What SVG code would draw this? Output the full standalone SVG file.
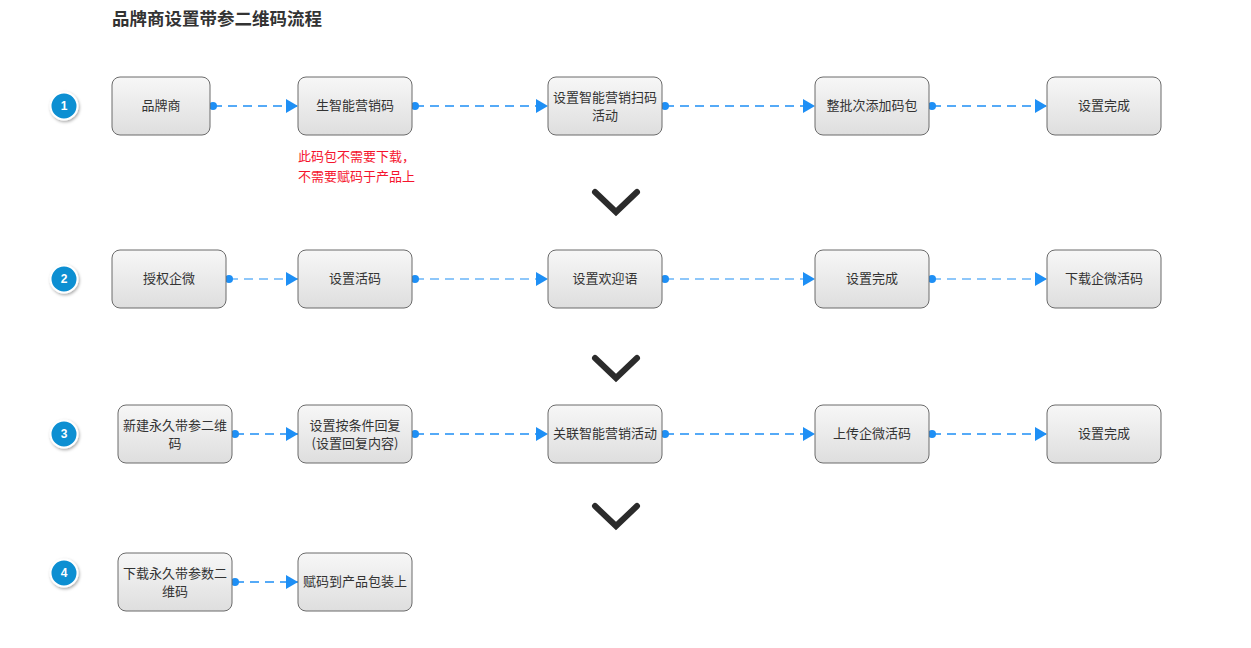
<svg xmlns="http://www.w3.org/2000/svg" width="1251" height="648" viewBox="0 0 1251 648">
<defs>
<linearGradient id="g" x1="0" y1="0" x2="0" y2="1"><stop offset="0" stop-color="#f7f7f7"/><stop offset="1" stop-color="#dedede"/></linearGradient>
<filter id="sh" x="-50%" y="-50%" width="200%" height="200%"><feDropShadow dx="1" dy="1.5" stdDeviation="1.5" flood-color="#000" flood-opacity="0.35"/></filter>
<marker id="ar" viewBox="0 0 12 14" refX="12" refY="7" markerWidth="12" markerHeight="14" markerUnits="userSpaceOnUse" orient="auto"><path d="M0,0 L12,7 L0,14 Z" fill="#1e8ff5"/></marker>
<marker id="dt" viewBox="0 0 8 8" refX="4" refY="4" markerWidth="8" markerHeight="8" markerUnits="userSpaceOnUse"><circle cx="4" cy="4" r="4" fill="#1e8ff5"/></marker>
</defs>
<style>
.n rect{fill:url(#g);stroke:#6b6b6b;stroke-width:1}
.t{font-family:"Noto Sans CJK SC","Liberation Sans",sans-serif;font-size:13px;fill:#333;text-anchor:middle}
.c{stroke:#1e8ff5;stroke-width:1.5;stroke-dasharray:9 6;fill:none;marker-start:url(#dt);marker-end:url(#ar)}
.c2{stroke-width:1.1}
.b circle{fill:#0a8fd2;stroke:#fff;stroke-width:2;filter:url(#sh)}
.b text{font-family:"Liberation Sans",sans-serif;font-size:12px;font-weight:bold;fill:#fff;text-anchor:middle}
.v{fill:none;stroke:#2b2b2b;stroke-width:6;stroke-linecap:round;stroke-linejoin:miter}
.r{font-family:"Noto Sans CJK SC","Liberation Sans",sans-serif;font-size:13px;fill:#f5142d}
</style>
<rect width="1251" height="648" fill="#fff"/>
<text x="112" y="25" style="font-family:'Noto Sans CJK SC','Liberation Sans',sans-serif;font-size:17.5px;font-weight:bold;fill:#333">品牌商设置带参二维码流程</text>

<g id="badges" class="b">
<g id="b1"><circle cx="64" cy="106" r="13.5"/><text x="64" y="110">1</text></g>
<g id="b2"><circle cx="64" cy="279" r="13.5"/><text x="64" y="283">2</text></g>
<g id="b3"><circle cx="64" cy="434" r="13.5"/><text x="64" y="438">3</text></g>
<g id="b4"><circle cx="64" cy="573" r="13.5"/><text x="64" y="577">4</text></g>
</g>

<g id="chevrons">
<path class="v" d="M595,192 L616,212 L637,192"/>
<path class="v" d="M595,358 L616,378 L637,358"/>
<path class="v" d="M595,506 L616,526 L637,506"/>
</g>

<g id="connectors">
<path class="c" d="M213,106 H298"/>
<path class="c" d="M415,106 H548"/>
<path class="c" d="M665,106 H815"/>
<path class="c" d="M932,106 H1047"/>
<path class="c c2" d="M229,279 H298"/>
<path class="c c2" d="M415,279 H548"/>
<path class="c c2" d="M665,279 H815"/>
<path class="c c2" d="M932,279 H1047"/>
<path class="c" d="M235,434 H298"/>
<path class="c" d="M415,434 H548"/>
<path class="c" d="M665,434 H815"/>
<path class="c" d="M932,434 H1047"/>
<path class="c" d="M235,582 H298"/>
</g>

<g id="n1a" class="n"><rect x="112" y="77" width="98" height="58" rx="8"/><text class="t" x="161" y="110">品牌商</text></g>
<g id="n1b" class="n"><rect x="298" y="77" width="114" height="58" rx="8"/><text class="t" x="355" y="110">生智能营销码</text></g>
<g id="n1c" class="n"><rect x="548" y="77" width="114" height="58" rx="8"/><text class="t" x="605" y="102">设置智能营销扫码</text><text class="t" x="605" y="120">活动</text></g>
<g id="n1d" class="n"><rect x="815" y="77" width="114" height="58" rx="8"/><text class="t" x="872" y="110">整批次添加码包</text></g>
<g id="n1e" class="n"><rect x="1047" y="77" width="114" height="58" rx="8"/><text class="t" x="1104" y="110">设置完成</text></g>

<g id="note"><text class="r" x="298" y="161">此码包不需要下载，</text><text class="r" x="298" y="181">不需要赋码于产品上</text></g>

<g id="n2a" class="n"><rect x="112" y="250" width="114" height="58" rx="8"/><text class="t" x="169" y="283">授权企微</text></g>
<g id="n2b" class="n"><rect x="298" y="250" width="114" height="58" rx="8"/><text class="t" x="355" y="283">设置活码</text></g>
<g id="n2c" class="n"><rect x="548" y="250" width="114" height="58" rx="8"/><text class="t" x="605" y="283">设置欢迎语</text></g>
<g id="n2d" class="n"><rect x="815" y="250" width="114" height="58" rx="8"/><text class="t" x="872" y="283">设置完成</text></g>
<g id="n2e" class="n"><rect x="1047" y="250" width="114" height="58" rx="8"/><text class="t" x="1104" y="283">下载企微活码</text></g>

<g id="n3a" class="n"><rect x="118" y="405" width="114" height="58" rx="8"/><text class="t" x="175" y="430">新建永久带参二维</text><text class="t" x="175" y="448">码</text></g>
<g id="n3b" class="n"><rect x="298" y="405" width="114" height="58" rx="8"/><text class="t" x="355" y="430">设置按条件回复</text><text class="t" x="355" y="448">(设置回复内容)</text></g>
<g id="n3c" class="n"><rect x="548" y="405" width="114" height="58" rx="8"/><text class="t" x="605" y="438">关联智能营销活动</text></g>
<g id="n3d" class="n"><rect x="815" y="405" width="114" height="58" rx="8"/><text class="t" x="872" y="438">上传企微活码</text></g>
<g id="n3e" class="n"><rect x="1047" y="405" width="114" height="58" rx="8"/><text class="t" x="1104" y="438">设置完成</text></g>

<g id="n4a" class="n"><rect x="118" y="553" width="114" height="58" rx="8"/><text class="t" x="175" y="578">下载永久带参数二</text><text class="t" x="175" y="596">维码</text></g>
<g id="n4b" class="n"><rect x="298" y="553" width="114" height="58" rx="8"/><text class="t" x="355" y="586">赋码到产品包装上</text></g>
</svg>
